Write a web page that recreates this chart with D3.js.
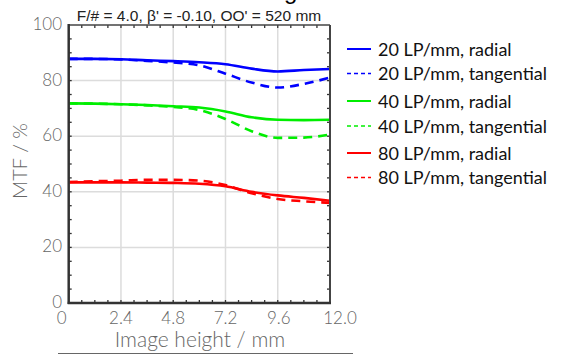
<!DOCTYPE html>
<html>
<head>
<meta charset="utf-8">
<script src="https://cdn.jsdelivr.net/npm/d3@7"></script>
<style>
  body { margin: 0; background: #fff; }
  svg { display: block; }
  .tick-label { font-family: Lato, "Open Sans", sans-serif; font-weight: 300; fill: #666; }
</style>
</head>
<body>
<svg id="chart" width="569" height="355"></svg>
<script>
// image height (mm)
var heights = [0, 1.2, 2.4, 3.6, 4.8, 6.0, 7.2, 8.4, 9.6, 10.8, 12.0];

// MTF in %
var lp20Radial     = [87.8, 87.8, 87.7, 87.3, 87.0, 86.6, 85.9, 84.3, 83.3, 83.8, 84.2];
var lp20Tangential = [87.8, 87.8, 87.6, 87.1, 86.5, 85.5, 82.5, 79.3, 77.5, 78.8, 81.1];
var lp40Radial     = [71.8, 71.7, 71.5, 71.2, 70.8, 70.3, 68.9, 66.8, 65.9, 65.8, 65.9];
var lp40Tangential = [71.8, 71.7, 71.5, 71.1, 70.5, 69.4, 66.2, 61.8, 59.4, 59.5, 60.6];
var lp80Radial     = [43.4, 43.4, 43.4, 43.3, 43.2, 42.9, 42.0, 40.0, 38.7, 37.8, 36.8];
var lp80Tangential = [43.5, 43.8, 44.0, 44.3, 44.3, 44.0, 42.4, 39.5, 37.4, 36.6, 36.0];

var xTicks = [0, 2.4, 4.8, 7.2, 9.6, 12.0];
var xTickLabels = ['0', '2.4', '4.8', '7.2', '9.6', '12.0'];
var yTicks = [0, 20, 40, 60, 80, 100];

var title = "F/# = 4.0, \u03b2' = -0.10, OO' = 520 mm";

var series = [
  { name: '20 LP/mm, radial', values: lp20Radial, color: '#0000ff', dashed: false },
  { name: '20 LP/mm, tangential', values: lp20Tangential, color: '#0000ff', dashed: true },
  { name: '40 LP/mm, radial', values: lp40Radial, color: '#00ee00', dashed: false },
  { name: '40 LP/mm, tangential', values: lp40Tangential, color: '#00ee00', dashed: true },
  { name: '80 LP/mm, radial', values: lp80Radial, color: '#ff0000', dashed: false },
  { name: '80 LP/mm, tangential', values: lp80Tangential, color: '#ff0000', dashed: true }
];

(function () {
  var svg = d3.select('#chart');
  var pl = 68.7, pr = 330, pt = 25, pb = 303;

  var x = d3.scaleLinear().domain([0, 12]).range([pl, pr]);
  var y = d3.scaleLinear().domain([0, 100]).range([pb, pt]);

  // cut-off glyph from text above the chart
  svg.append('text')
    .attr('x', 284).attr('y', -1)
    .attr('font-family', 'Liberation Sans, Arial, sans-serif')
    .attr('font-size', 24).attr('fill', '#000')
    .text('g');

  // grid
  var grid = svg.append('g');
  grid.selectAll('.vg').data(xTicks.slice(1, -1)).enter().append('line')
    .attr('x1', d => x(d)).attr('x2', d => x(d))
    .attr('y1', pt).attr('y2', pb)
    .attr('stroke', '#dcdcdc').attr('stroke-width', 1.5);
  grid.selectAll('.hg').data(yTicks.slice(1, -1)).enter().append('line')
    .attr('x1', pl).attr('x2', pr)
    .attr('y1', d => y(d)).attr('y2', d => y(d))
    .attr('stroke', '#dcdcdc').attr('stroke-width', 1.5);

  // minor ticks (inward) on all four sides
  var yMinor = d3.range(5, 100, 5);
  var xMinor = d3.range(0.6, 12, 0.6);
  var ticks = svg.append('g').attr('stroke', '#333').attr('stroke-width', 1.3);
  yMinor.forEach(function (v) {
    ticks.append('line').attr('x1', pl).attr('x2', pl + 3).attr('y1', y(v)).attr('y2', y(v));
    ticks.append('line').attr('x1', pr).attr('x2', pr - 3).attr('y1', y(v)).attr('y2', y(v));
  });
  xMinor.forEach(function (v) {
    ticks.append('line').attr('x1', x(v)).attr('x2', x(v)).attr('y1', pb).attr('y2', pb - 3);
    ticks.append('line').attr('x1', x(v)).attr('x2', x(v)).attr('y1', pt).attr('y2', pt + 3);
  });

  // data lines
  var line = d3.line()
    .x(function (d, i) { return x(heights[i]); })
    .y(function (d) { return y(d); })
    .curve(d3.curveMonotoneX);

  svg.append('g').selectAll('path').data(series).enter().append('path')
    .attr('d', d => line(d.values))
    .attr('fill', 'none')
    .attr('stroke', d => d.color)
    .attr('stroke-width', 2.6)
    .attr('stroke-dasharray', d => d.dashed ? '9,6' : null);

  // frame
  svg.append('line').attr('x1', pl).attr('x2', pr).attr('y1', pt).attr('y2', pt)
    .attr('stroke', '#444').attr('stroke-width', 1.5);
  svg.append('line').attr('x1', pr).attr('x2', pr).attr('y1', pt).attr('y2', pb)
    .attr('stroke', '#444').attr('stroke-width', 2);
  svg.append('line').attr('x1', pl).attr('x2', pl).attr('y1', pt - 1).attr('y2', pb + 1)
    .attr('stroke', '#333').attr('stroke-width', 2.5);
  svg.append('line').attr('x1', pl - 1).attr('x2', pr + 1).attr('y1', pb).attr('y2', pb)
    .attr('stroke', '#333').attr('stroke-width', 2.5);

  // tick labels
  svg.selectAll('.ylab').data(yTicks).enter().append('text')
    .attr('class', 'tick-label')
    .attr('x', 62).attr('y', d => y(d) + 5)
    .attr('text-anchor', 'end').attr('font-size', 17)
    .text(d => d);

  var xOffsets = [-7, 0, 0, 0, 1, 10];
  svg.selectAll('.xlab').data(xTicks).enter().append('text')
    .attr('class', 'tick-label')
    .attr('x', (d, i) => x(d) + xOffsets[i]).attr('y', 324)
    .attr('text-anchor', 'middle').attr('font-size', 17)
    .text((d, i) => xTickLabels[i]);

  // axis titles
  svg.append('text').attr('class', 'tick-label')
    .attr('x', 200).attr('y', 347)
    .attr('text-anchor', 'middle').attr('font-size', 21)
    .text('Image height / mm');

  svg.append('text').attr('class', 'tick-label')
    .attr('transform', 'translate(27,161) rotate(-90)')
    .attr('text-anchor', 'middle').attr('font-size', 20)
    .text('MTF / %');

  svg.append('line').attr('x1', 58).attr('x2', 353).attr('y1', 353.5).attr('y2', 353.5)
    .attr('stroke', '#666').attr('stroke-width', 1.2);

  // title
  svg.append('text')
    .attr('x', 199).attr('y', 21)
    .attr('text-anchor', 'middle')
    .attr('font-family', 'Liberation Sans, Arial, sans-serif')
    .attr('font-size', 15.5).attr('fill', '#222')
    .text(title);

  // legend
  var legendY = [49, 73.5, 101, 126, 153, 177.5];
  var legend = svg.append('g').selectAll('g').data(series).enter().append('g')
    .attr('transform', (d, i) => 'translate(0,' + legendY[i] + ')');
  legend.append('line')
    .attr('x1', 347).attr('x2', 371).attr('y1', 0).attr('y2', 0)
    .attr('stroke', d => d.color)
    .attr('stroke-width', d => d.dashed ? 1.6 : 2)
    .attr('stroke-dasharray', d => d.dashed ? '4,3' : null);
  legend.append('text')
    .attr('x', 378).attr('y', 6.5)
    .attr('font-family', 'Lato, "Open Sans", sans-serif')
    .attr('font-size', 18).attr('fill', '#111')
    .text(d => d.name);
})();
</script>
</body>
</html>
